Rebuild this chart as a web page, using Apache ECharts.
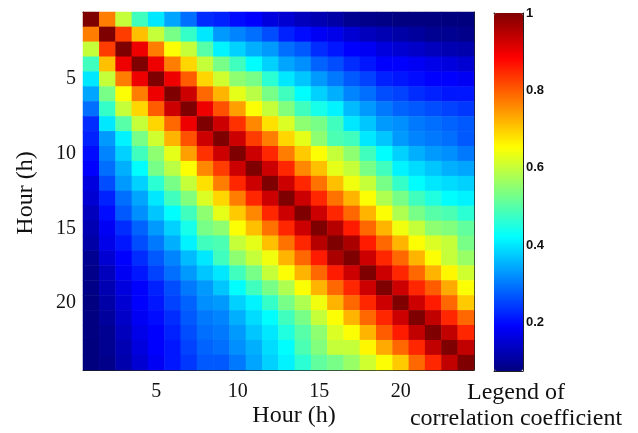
<!DOCTYPE html>
<html>
<head>
<meta charset="utf-8">
<script src="https://cdn.jsdelivr.net/npm/echarts@6/dist/echarts.min.js"></script>
<style>html,body{margin:0;padding:0;background:#fff;}#chart{width:638px;height:433px;}</style>
</head>
<body>
<div id="chart"></div>
<script>
// Hour categories and shown tick labels
const hours = ['1','2','3','4','5','6','7','8','9','10','11','12','13','14','15','16','17','18','19','20','21','22','23','24'];
const tickHours = [5, 10, 15, 20];
const colorbarTicks = [0.2, 0.4, 0.6, 0.8];
const colorbarLabels = [0.2, 0.4, 0.6, 0.8, 1];
const colorMin = 0.074;
const colorMax = 1;

// Lower triangle of the (symmetric) hourly correlation matrix, row by row
const r01 = [1.00];
const r02 = [0.77, 1.00];
const r03 = [0.60, 0.83, 1.00];
const r04 = [0.48, 0.71, 0.90, 1.00];
const r05 = [0.40, 0.60, 0.77, 0.90, 1.00];
const r06 = [0.34, 0.53, 0.65, 0.77, 0.90, 1.00];
const r07 = [0.29, 0.47, 0.60, 0.69, 0.80, 0.93, 1.00];
const r08 = [0.23, 0.40, 0.50, 0.60, 0.69, 0.79, 0.90, 1.00];
const r09 = [0.22, 0.33, 0.41, 0.53, 0.61, 0.72, 0.81, 0.93, 1.00];
const r10 = [0.20, 0.31, 0.38, 0.48, 0.55, 0.63, 0.74, 0.84, 0.93, 1.00];
const r11 = [0.19, 0.29, 0.35, 0.42, 0.53, 0.59, 0.65, 0.76, 0.83, 0.93, 1.00];
const r12 = [0.16, 0.26, 0.33, 0.38, 0.46, 0.53, 0.60, 0.68, 0.77, 0.85, 0.93, 1.00];
const r13 = [0.15, 0.22, 0.29, 0.34, 0.40, 0.48, 0.54, 0.62, 0.69, 0.77, 0.85, 0.93, 1.00];
const r14 = [0.13, 0.20, 0.27, 0.32, 0.37, 0.42, 0.48, 0.55, 0.63, 0.70, 0.76, 0.85, 0.93, 1.00];
const r15 = [0.12, 0.18, 0.23, 0.28, 0.33, 0.38, 0.44, 0.53, 0.55, 0.65, 0.71, 0.78, 0.85, 0.93, 1.00];
const r16 = [0.11, 0.17, 0.21, 0.26, 0.30, 0.35, 0.41, 0.48, 0.49, 0.60, 0.63, 0.71, 0.78, 0.85, 0.95, 1.00];
const r17 = [0.09, 0.15, 0.19, 0.23, 0.27, 0.31, 0.36, 0.40, 0.48, 0.55, 0.60, 0.64, 0.72, 0.79, 0.86, 0.96, 1.00];
const r18 = [0.085, 0.13, 0.18, 0.21, 0.25, 0.29, 0.33, 0.37, 0.40, 0.48, 0.53, 0.60, 0.65, 0.72, 0.79, 0.86, 0.93, 1.00];
const r19 = [0.08, 0.12, 0.16, 0.19, 0.22, 0.26, 0.30, 0.33, 0.37, 0.42, 0.48, 0.53, 0.58, 0.65, 0.72, 0.79, 0.85, 0.93, 1.00];
const r20 = [0.075, 0.11, 0.15, 0.19, 0.21, 0.25, 0.28, 0.32, 0.33, 0.38, 0.41, 0.47, 0.53, 0.58, 0.64, 0.72, 0.79, 0.85, 0.93, 1.00];
const r21 = [0.075, 0.10, 0.14, 0.18, 0.20, 0.23, 0.27, 0.30, 0.31, 0.35, 0.39, 0.42, 0.48, 0.53, 0.60, 0.65, 0.72, 0.79, 0.85, 0.93, 1.00];
const r22 = [0.075, 0.09, 0.13, 0.17, 0.19, 0.22, 0.26, 0.29, 0.30, 0.33, 0.37, 0.40, 0.45, 0.50, 0.55, 0.62, 0.65, 0.72, 0.80, 0.86, 0.94, 1.00];
const r23 = [0.074, 0.09, 0.12, 0.16, 0.19, 0.21, 0.25, 0.28, 0.29, 0.32, 0.35, 0.39, 0.42, 0.49, 0.54, 0.60, 0.60, 0.66, 0.73, 0.79, 0.85, 0.94, 1.00];
const r24 = [0.074, 0.085, 0.115, 0.15, 0.18, 0.21, 0.24, 0.27, 0.27, 0.30, 0.34, 0.38, 0.41, 0.46, 0.51, 0.53, 0.56, 0.61, 0.65, 0.70, 0.79, 0.85, 0.94, 1.00];

const lowerRows = [r01, r02, r03, r04, r05, r06, r07, r08, r09, r10, r11, r12,
                   r13, r14, r15, r16, r17, r18, r19, r20, r21, r22, r23, r24];

// MATLAB "jet" colormap stops
const jet = ['#00007F', '#0000FF', '#007FFF', '#00FFFF', '#7FFF7F', '#FFFF00', '#FF7F00', '#FF0000', '#7F0000'];

// Build heatmap data [col, row, value] using symmetry
const cells = [];
for (let i = 0; i < hours.length; i++) {
  for (let j = 0; j < hours.length; j++) {
    const v = i >= j ? lowerRows[i][j] : lowerRows[j][i];
    cells.push([j, i, v]);
  }
}

const showTick = (idx) => tickHours.indexOf(idx + 1) >= 0;
const serif = '"Liberation Serif", "Times New Roman", serif';
const lineCol = '#222';
const textCol = '#111';

const catAxisCommon = {
  type: 'category',
  gridIndex: 0,
  data: hours,
  boundaryGap: true,
  axisLine: { show: true, onZero: false, lineStyle: { color: lineCol, width: 1 } },
  axisTick: { show: true, inside: true, alignWithLabel: true, length: 5, interval: showTick, lineStyle: { color: lineCol, width: 1 } },
  splitLine: { show: false },
  splitArea: { show: false }
};

const chart = echarts.init(document.getElementById('chart'), null, { renderer: 'canvas' });
chart.setOption({
  animation: false,
  backgroundColor: '#ffffff',
  grid: [
    { left: 83, top: 12, width: 391, height: 358 },
    { left: 494, top: 13, width: 29, height: 358 }
  ],
  xAxis: [
    Object.assign({}, catAxisCommon, {
      position: 'bottom',
      axisLabel: { interval: showTick, fontFamily: serif, fontSize: 20, color: textCol, margin: 12 }
    }),
    Object.assign({}, catAxisCommon, {
      position: 'top',
      axisLabel: { show: false }
    }),
    { type: 'value', gridIndex: 1, min: 0, max: 1, position: 'bottom',
      axisLine: { show: true, onZero: false, lineStyle: { color: lineCol } },
      axisTick: { show: false }, axisLabel: { show: false }, splitLine: { show: false } },
    { type: 'value', gridIndex: 1, min: 0, max: 1, position: 'top',
      axisLine: { show: true, onZero: false, lineStyle: { color: lineCol } },
      axisTick: { show: false }, axisLabel: { show: false }, splitLine: { show: false } }
  ],
  yAxis: [
    Object.assign({}, catAxisCommon, {
      inverse: true,
      position: 'left',
      axisLabel: { interval: showTick, fontFamily: serif, fontSize: 20, color: textCol, margin: 7 }
    }),
    Object.assign({}, catAxisCommon, {
      inverse: true,
      position: 'right',
      axisLabel: { show: false }
    }),
    { type: 'value', gridIndex: 1, min: colorMin, max: colorMax, position: 'right',
      axisLine: { show: true, onZero: false, lineStyle: { color: lineCol } },
      axisTick: { show: true, inside: true, length: 4, customValues: colorbarTicks, lineStyle: { color: lineCol } },
      axisLabel: { show: true, customValues: colorbarLabels, margin: 3,
        formatter: (v) => (v === 1 ? '1' : v.toFixed(1)),
        fontFamily: '"Liberation Sans", Arial, sans-serif', fontWeight: 'bold', fontSize: 13, color: textCol },
      splitLine: { show: false } },
    { type: 'value', gridIndex: 1, min: colorMin, max: colorMax, position: 'left',
      axisLine: { show: true, onZero: false, lineStyle: { color: lineCol } },
      axisTick: { show: true, inside: true, length: 4, customValues: colorbarTicks, lineStyle: { color: lineCol } },
      axisLabel: { show: false },
      splitLine: { show: false } }
  ],
  visualMap: {
    type: 'continuous',
    seriesIndex: 0,
    min: colorMin,
    max: colorMax,
    orient: 'vertical',
    left: 494,
    top: 13,
    itemWidth: 29,
    itemHeight: 358,
    padding: 0,
    calculable: false,
    hoverLink: false,
    inRange: { color: jet }
  },
  series: [{
    type: 'heatmap',
    xAxisIndex: 0,
    yAxisIndex: 0,
    data: cells,
    itemStyle: { borderWidth: 0 },
    emphasis: { disabled: true }
  }],
  graphic: [
    { type: 'text', x: 294, y: 416, style: { text: 'Hour (h)', font: '24px ' + serif, fill: textCol, align: 'center', verticalAlign: 'middle' } },
    { type: 'text', x: 26, y: 193, rotation: Math.PI / 2, style: { text: 'Hour (h)', font: '24px ' + serif, fill: textCol, align: 'center', verticalAlign: 'middle' } },
    { type: 'text', x: 516, y: 393, style: { text: 'Legend of', font: '24px ' + serif, fill: textCol, align: 'center', verticalAlign: 'middle' } },
    { type: 'text', x: 516, y: 419, style: { text: 'correlation coefficient', font: '24px ' + serif, fill: textCol, align: 'center', verticalAlign: 'middle' } }
  ]
});
</script>
</body>
</html>
